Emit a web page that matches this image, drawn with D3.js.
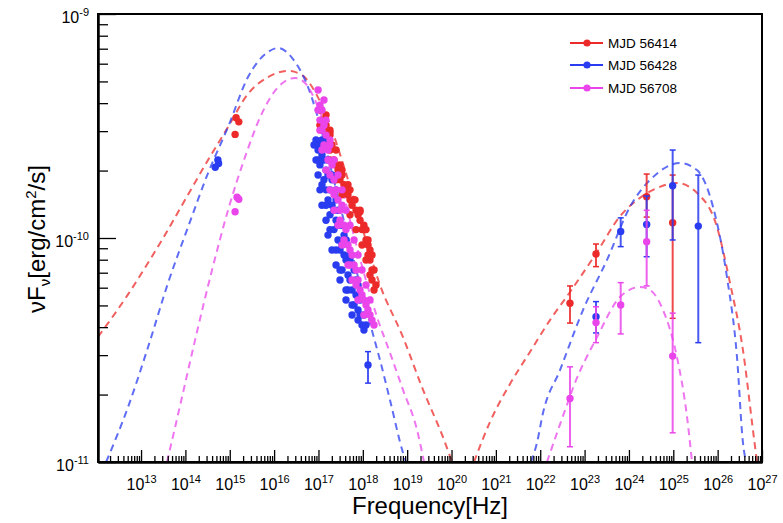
<!DOCTYPE html>
<html><head><meta charset="utf-8">
<script src="https://cdn.jsdelivr.net/npm/d3@7"></script>
<style>
body{margin:0;background:#fff}
svg{display:block}
text{font-family:"Liberation Sans",Arial,Helvetica,sans-serif;fill:#000}
</style>
</head><body>
<svg id="chart" width="783" height="523"></svg>
<script>
// ---------------- data ----------------
const xDomain = [1.07e12, 1e27];
const yDomain = [1e-11, 1e-9];
const xTickExps = [13,14,15,16,17,18,19,20,21,22,23,24,25,26,27];
const yTickExps = [-11,-10,-9];
const seriesNames = ["MJD 56414","MJD 56428","MJD 56708"];
const seriesColors = ["#ec2a2a","#2a3cf0","#ea45ea"];

// optical / UV points
const optNu56414 = [1.39e15,1.6e15,1.32e15];
const optF56414  = [3.44e-10,3.3e-10,2.9e-10];
const optNu56428 = [5.4e14,4.7e14,5.6e14];
const optF56428  = [2.23e-10,2.07e-10,2.15e-10];
const optNu56708 = [1.46e15,1.6e15,1.32e15];
const optF56708  = [1.52e-10,1.49e-10,1.31e-10];

// X-ray points
const xrNu56414 = [1.08e17,1.2e17,1.33e17,1.48e17,1.64e17,1.82e17,2.02e17,2.24e17,2.49e17,2.76e17,3.06e17,3.4e17,3.77e17,4.18e17,4.63e17,5.14e17,5.72e17,6.34e17,7.03e17,7.8e17,8.65e17,9.59e17,1.06e18,1.18e18,1.31e18,1.31e18,1.45e18,1.61e18,1.61e18,1.79e18,1.82e17,3.06e17,5.14e17,8.65e17,1.18e18,1.45e18,
  1.48e17,1.82e17,2.49e17,3.4e17,4.63e17,6.67e17,8.65e17,1.12e18,1.31e18,1.61e18,1.79e18,1.98e18,
  1.08e17,1.33e17,1.82e17,2.49e17,3.4e17,5.14e17,7.03e17,9.59e17,1.18e18,1.45e18];
const xrF56414  = [3.73e-10,3.36e-10,3.03e-10,3.19e-10,2.74e-10,2.47e-10,2.6e-10,2.23e-10,2.12e-10,2.01e-10,1.82e-10,1.91e-10,1.73e-10,1.64e-10,1.56e-10,1.48e-10,1.4e-10,1.48e-10,1.33e-10,1.27e-10,1.2e-10,1.09e-10,1.14e-10,9.8e-11,9.31e-11,8.4e-11,7.98e-11,7.2e-11,6.49e-11,5.86e-11,2.88e-10,2.12e-10,1.64e-10,1.33e-10,1.09e-10,8.84e-11,
  3.54e-10,3.03e-10,2.47e-10,2.01e-10,1.73e-10,1.48e-10,1.31e-10,1.09e-10,9.8e-11,8.4e-11,7.2e-11,6.17e-11,
  3.19e-10,2.74e-10,2.23e-10,1.82e-10,1.56e-10,1.27e-10,1.09e-10,9.31e-11,7.98e-11,6.84e-11];
const xrNu56428 = [8.8e16,1.08e17,1.2e17,9.8e16,1.2e17,1.33e17,1.08e17,1.48e17,1.33e17,1.64e17,1.48e17,1.82e17,1.64e17,2.02e17,2.24e17,1.82e17,2.49e17,2.76e17,2.24e17,2.76e17,3.4e17,3.06e17,3.77e17,4.18e17,3.4e17,4.63e17,5.14e17,4.63e17,5.72e17,7.03e17,6.34e17,7.8e17,8.65e17,7.8e17,9.59e17,1.06e18,9.8e16,1.2e17,1.48e17,1.82e17,2.49e17,3.06e17,4.18e17,5.72e17,2.02e17,2.49e17,3.77e17,5.14e17,7.03e17,
  7.94e16,8.8e16,9.8e16,1.08e17,1.2e17,1.48e17,1.64e17,2.02e17,2.49e17,3.06e17,4.18e17,5.72e17,
  1.33e17,1.64e17,2.02e17,2.49e17,2.76e17,3.4e17,4.18e17,5.14e17,6.34e17,7.8e17,8.65e17,1.06e18,1.18e18];
const xrF56428  = [2.74e-10,2.6e-10,2.74e-10,2.47e-10,2.35e-10,2.23e-10,2.12e-10,2.01e-10,1.82e-10,1.91e-10,1.64e-10,1.64e-10,1.48e-10,1.4e-10,1.33e-10,1.27e-10,1.2e-10,1.14e-10,1.09e-10,9.8e-11,9.31e-11,8.84e-11,8.4e-11,7.98e-11,7.2e-11,6.84e-11,6.49e-11,5.86e-11,5.86e-11,5.57e-11,5.02e-11,4.77e-11,4.53e-11,4.3e-11,4.09e-11,3.88e-11,2.23e-10,1.73e-10,1.4e-10,1.09e-10,8.84e-11,7.2e-11,5.86e-11,5.02e-11,1.82e-10,1.48e-10,1.03e-10,7.98e-11,6.49e-11,
  2.6e-10,2.23e-10,1.91e-10,1.64e-10,1.4e-10,1.2e-10,1.03e-10,8.84e-11,7.58e-11,6.49e-11,5.29e-11,4.53e-11,
  2.74e-10,2.23e-10,1.91e-10,1.64e-10,1.33e-10,1.14e-10,9.8e-11,8.4e-11,7.2e-11,6.17e-11,5.29e-11,4.53e-11,4.09e-11];
const xrNu56708 = [9.8e16,1.08e17,1.2e17,1.08e17,1.33e17,1.2e17,1.48e17,1.33e17,1.64e17,1.82e17,1.64e17,2.02e17,1.82e17,2.24e17,2.49e17,2.24e17,2.76e17,3.06e17,3.4e17,3.06e17,3.77e17,4.18e17,3.77e17,4.63e17,5.14e17,5.72e17,5.14e17,6.34e17,7.03e17,7.8e17,7.03e17,8.65e17,9.59e17,1.06e18,1.18e18,1.31e18,1.45e18,1.61e18,
  9.8e16,1.08e17,1.2e17,1.48e17,1.82e17,2.24e17,2.76e17,3.4e17,4.63e17,5.72e17,7.8e17,1.06e18,
  1.33e17,1.48e17,1.82e17,2.24e17,2.76e17,3.4e17,4.18e17,5.14e17,6.34e17,7.8e17,9.59e17,1.18e18,1.45e18,1.79e18];
const xrF56708  = [4.58e-10,3.92e-10,3.73e-10,3.36e-10,3.19e-10,3.03e-10,2.88e-10,2.6e-10,2.47e-10,2.6e-10,2.23e-10,2.12e-10,1.91e-10,1.82e-10,1.64e-10,1.56e-10,1.48e-10,1.33e-10,1.4e-10,1.2e-10,1.14e-10,1.09e-10,9.8e-11,9.31e-11,8.84e-11,8.4e-11,7.58e-11,7.58e-11,7.2e-11,6.49e-11,6.17e-11,5.86e-11,5.57e-11,5.29e-11,5.02e-11,4.77e-11,4.53e-11,4.3e-11,
  3.73e-10,3.03e-10,2.47e-10,2.01e-10,1.64e-10,1.33e-10,1.14e-10,9.31e-11,7.58e-11,6.49e-11,5.29e-11,4.53e-11,
  4.13e-10,3.36e-10,2.74e-10,2.23e-10,1.91e-10,1.64e-10,1.33e-10,1.14e-10,9.8e-11,8.4e-11,7.2e-11,6.17e-11,5.29e-11,4.09e-11];

// hard X-ray point with error (MJD 56428)
const hxNu56428 = [1.31e18];
const hxF56428  = [2.71e-11];
const hxLo56428 = [2.25e-11];
const hxHi56428 = [3.11e-11];

// gamma-ray points with errors
const gNu56414 = [4.69e22,1.81e23,2.51e24,9.68e24];
const gF56414  = [5.11e-11,8.48e-11,1.53e-10,1.17e-10];
const gLo56414 = [4.17e-11,7.45e-11,1.24e-10,4.38e-11];
const gHi56414 = [6.11e-11,9.4e-11,1.93e-10,1.91e-10];
const gNu56428 = [1.81e23,6.52e23,2.51e24,9.68e24,3.66e25];
const gF56428  = [4.45e-11,1.07e-10,1.15e-10,1.71e-10,1.13e-10];
const gLo56428 = [3.77e-11,9.15e-11,8.25e-11,9.8e-11,3.41e-11];
const gHi56428 = [5.2e-11,1.23e-10,1.54e-10,2.47e-10,1.91e-10];
const gNu56708 = [4.69e22,1.81e23,6.52e23,2.51e24,9.68e24];
const gF56708  = [1.92e-11,4.19e-11,5.02e-11,9.63e-11,2.97e-11];
const gLo56708 = [1.17e-11,3.41e-11,3.73e-11,6.11e-11,1.35e-11];
const gHi56708 = [2.66e-11,4.93e-11,6.32e-11,1.33e-10,4.62e-11];

// model curves (synchrotron and inverse Compton humps)
const synNu56414 = [1.07e12,5.09e12,1.44e13,2.97e13,9.82e13,3.24e14,9.15e14,2.58e15,7.3e15,2.06e16,4.26e16,8.36e16,1.82e17,3.97e17,8.65e17,2.44e18,8.05e18,2.28e19,6.43e19,1.03e20];
const synF56414  = [3.62e-11,5.6e-11,7.75e-11,9.8e-11,1.48e-10,2.23e-10,3.13e-10,4.4e-10,5.23e-10,5.57e-10,5.34e-10,4.49e-10,3.2e-10,2.01e-10,1.2e-10,6.17e-11,3.61e-11,2.1e-11,1.29e-11,1e-11];
const icNu56414  = [3.21e20,7.37e20,2.08e21,5.87e21,1.66e22,4.69e22,1.91e23,6.28e23,1.77e24,4.29e24,1.21e25,3.42e25,9.66e25,1.9e26,3.72e26,6.25e26,7.7e26];
const icF56414   = [1e-11,1.51e-11,2.23e-11,3.1e-11,4.3e-11,5.74e-11,8.66e-11,1.25e-10,1.51e-10,1.67e-10,1.76e-10,1.59e-10,1.12e-10,6.3e-11,3.16e-11,1.39e-11,1e-11];
const synNu56428 = [1.63e12,5.09e12,1.44e13,4.06e13,1.15e14,3.24e14,9.15e14,2.58e15,7.3e15,1.23e16,2.96e16,5.82e16,9.77e16,1.82e17,3.97e17,7.8e17,1.45e18,2.44e18,4.1e18,8.05e18,9.42e18];
const synF56428  = [1e-11,1.76e-11,3.26e-11,6.3e-11,1.12e-10,1.95e-10,3.13e-10,5.23e-10,6.77e-10,7.05e-10,6.11e-10,4.72e-10,3.43e-10,2.12e-10,1.14e-10,6.7e-11,4.17e-11,2.85e-11,1.89e-11,1.1e-11,1e-11];
const icNu56428  = [6.19e21,8.45e21,1.15e22,2.79e22,9.21e22,3.2e23,1.06e24,3.49e24,1.42e25,3.42e25,7.85e25,1.62e26,2.73e26,3.72e26,4.35e26];
const icF56428   = [1e-11,1.22e-11,1.65e-11,2.57e-11,4.77e-11,7.98e-11,1.38e-10,1.87e-10,2.16e-10,2.01e-10,1.38e-10,6.7e-11,2.94e-11,1.22e-11,1e-11];
const synNu56708 = [3.85e13,8.4e13,1.65e14,3.99e14,9.15e14,2.21e15,5.34e15,1.23e16,2.96e16,4.98e16,8.36e16,2.36e17,6.67e17,2.09e18,4.1e18,8.05e18,1.67e19,2.4e19];
const synF56708  = [1e-11,1.95e-11,3.5e-11,7.2e-11,1.33e-10,2.3e-10,3.61e-10,4.72e-10,5.18e-10,4.92e-10,4.13e-10,2.23e-10,9.8e-11,4.44e-11,3.07e-11,2.1e-11,1.39e-11,1e-11];
const icNu56708  = [1.42e22,2.39e22,4.01e22,5.48e22,1.91e23,6.28e23,1.77e24,2.98e24,5.86e24,1.21e25,2.04e25,2.38e25,2.64e25];
const icF56708   = [1e-11,1.35e-11,1.8e-11,2.14e-11,3.61e-11,5.45e-11,6.04e-11,5.86e-11,4.77e-11,2.94e-11,1.59e-11,1.22e-11,1e-11];

// ---------------- drawing ----------------
const svg = d3.select("#chart");
const L = 98, R = 762, T = 14, B = 462;
const x = d3.scaleLog().domain(xDomain).range([L, R]);
const y = d3.scaleLog().domain(yDomain).range([B, T]);

svg.append("defs").append("clipPath").attr("id","clip")
  .append("rect").attr("x",L).attr("y",T).attr("width",R-L).attr("height",B-T);

const zip = (a,b) => a.map((v,i)=>[v,b[i]]);
const series = [
  {syn:zip(synNu56414,synF56414), ic:zip(icNu56414,icF56414), opt:zip(optNu56414,optF56414), xr:zip(xrNu56414,xrF56414),
   g:gNu56414.map((v,i)=>({nu:v,f:gF56414[i],lo:gLo56414[i],hi:gHi56414[i]})), hx:[]},
  {syn:zip(synNu56428,synF56428), ic:zip(icNu56428,icF56428), opt:zip(optNu56428,optF56428), xr:zip(xrNu56428,xrF56428),
   g:gNu56428.map((v,i)=>({nu:v,f:gF56428[i],lo:gLo56428[i],hi:gHi56428[i]})),
   hx:hxNu56428.map((v,i)=>({nu:v,f:hxF56428[i],lo:hxLo56428[i],hi:hxHi56428[i]}))},
  {syn:zip(synNu56708,synF56708), ic:zip(icNu56708,icF56708), opt:zip(optNu56708,optF56708), xr:zip(xrNu56708,xrF56708),
   g:gNu56708.map((v,i)=>({nu:v,f:gF56708[i],lo:gLo56708[i],hi:gHi56708[i]})), hx:[]}
];

const plot = svg.append("g").attr("clip-path","url(#clip)");
const line = d3.line().x(d=>x(d[0])).y(d=>y(d[1])).curve(d3.curveMonotoneX);

// model curves
series.forEach((s,i)=>{
  [s.syn, s.ic].forEach(c=>{
    plot.append("path").attr("d", line(c)).attr("fill","none")
      .attr("stroke", seriesColors[i]).attr("stroke-opacity",0.75)
      .attr("stroke-width",2).attr("stroke-dasharray","7,5");
  });
});

// points
series.forEach((s,i)=>{
  const col = seriesColors[i];
  const g = plot.append("g");
  const errs = s.g.concat(s.hx);
  errs.forEach(d=>{
    const cx = x(d.nu);
    g.append("line").attr("x1",cx).attr("x2",cx).attr("y1",y(d.lo)).attr("y2",y(d.hi))
      .attr("stroke",col).attr("stroke-width",2).attr("stroke-opacity",0.85);
    [d.lo,d.hi].forEach(v=>g.append("line").attr("x1",cx-3).attr("x2",cx+3)
      .attr("y1",y(v)).attr("y2",y(v)).attr("stroke",col).attr("stroke-width",1.5));
  });
  const pts = s.opt.concat(s.xr).concat(errs.map(d=>[d.nu,d.f]));
  g.selectAll("circle").data(pts).join("circle")
    .attr("cx",d=>x(d[0])).attr("cy",d=>y(d[1])).attr("r",3.7).attr("fill",col);
});

// frame
svg.append("rect").attr("x",L).attr("y",T).attr("width",R-L).attr("height",B-T)
  .attr("fill","none").attr("stroke","#000").attr("stroke-width",2);

// x axis
const xMajors = xTickExps.map(e=>Math.pow(10,e));
const xMinors = [];
for (let e=12;e<=26;e++) for (let k=2;k<=9;k++){const v=k*Math.pow(10,e); if(v>=xDomain[0]&&v<=xDomain[1]) xMinors.push(v);}
const gxMin = svg.append("g").attr("transform",`translate(0,${B})`)
  .call(d3.axisBottom(x).tickValues(xMinors).tickSize(-6).tickSizeOuter(0).tickFormat(""));
const gx = svg.append("g").attr("transform",`translate(0,${B})`)
  .call(d3.axisBottom(x).tickValues(xMajors).tickSize(-12).tickSizeOuter(0).tickPadding(0));
[gxMin,gx].forEach(g=>{g.select(".domain").attr("stroke-width",2); g.selectAll(".tick line").attr("stroke-width",1.3);});
gx.selectAll(".tick text").each(function(d,i){
  const t = d3.select(this).text(null).attr("y",28).attr("dy",null)
    .attr("font-size",16).attr("text-anchor","middle").attr("fill","#000");
  t.append("tspan").text("10");
  t.append("tspan").attr("dy",-7).attr("font-size",11).text(String(xTickExps[i]));
});

// y axis
const yMajors = yTickExps.map(e=>Math.pow(10,e));
const yMinors = [];
for (let e=-11;e<-9;e++) for (let k=2;k<=9;k++) yMinors.push(k*Math.pow(10,e));
const gyMin = svg.append("g").attr("transform",`translate(${L},0)`)
  .call(d3.axisLeft(y).tickValues(yMinors).tickSize(-10).tickSizeOuter(0).tickFormat(""));
const gy = svg.append("g").attr("transform",`translate(${L},0)`)
  .call(d3.axisLeft(y).tickValues(yMajors).tickSize(-18).tickSizeOuter(0).tickPadding(9));
[gyMin,gy].forEach(g=>{g.select(".domain").attr("stroke-width",2); g.selectAll(".tick line").attr("stroke-width",1.3);});
gy.selectAll(".tick text").each(function(d,i){
  const t = d3.select(this).text(null).attr("dy","0.5em")
    .attr("font-size",16).attr("text-anchor","end").attr("fill","#000");
  t.append("tspan").text("10");
  t.append("tspan").attr("dy",-7).attr("font-size",11).text("-" + Math.abs(yTickExps[i]));
});

// axis titles
svg.append("text").attr("x",430).attr("y",514).attr("text-anchor","middle")
  .attr("font-size",24).text("Frequency[Hz]");
const yt = svg.append("text").attr("transform","translate(45,239) rotate(-90)")
  .attr("text-anchor","middle").attr("font-size",24);
yt.append("tspan").text("νF");
yt.append("tspan").attr("font-size",15).attr("dy",5).text("ν");
yt.append("tspan").attr("dy",-5).text("[erg/cm");
yt.append("tspan").attr("font-size",15).attr("dy",-9).text("2");
yt.append("tspan").attr("dy",9).text("/s]");

// legend
const leg = svg.append("g");
const legY = [43,65,88];
seriesNames.forEach((n,i)=>{
  const g = leg.append("g").attr("transform",`translate(0,${legY[i]})`);
  g.append("line").attr("x1",570).attr("x2",603).attr("y1",0).attr("y2",0)
    .attr("stroke",seriesColors[i]).attr("stroke-width",2);
  g.append("circle").attr("cx",587).attr("cy",0).attr("r",3.6).attr("fill",seriesColors[i]);
  g.append("text").attr("x",608).attr("y",0).attr("dy","0.36em").attr("font-size",13.5)
    .attr("fill","#222").text(n);
});
</script>
</body></html>
